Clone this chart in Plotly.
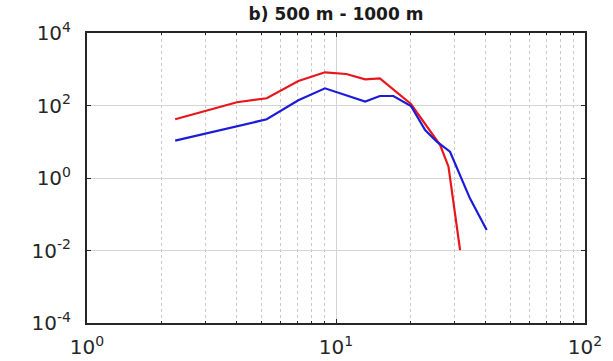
import plotly.graph_objects as go

title = "b) 500 m - 1000 m"

red_x = [2.26, 4.0, 5.27, 7.06, 9.03, 11.0, 13.1, 15.0, 20.0, 26.2, 28.3, 31.5]
red_y = [41.6, 123, 158, 474, 824, 740, 527, 562, 110, 8.1, 2.05, 0.0103]

blue_x = [2.26, 4.0, 5.27, 7.06, 9.03, 13.1, 15.0, 17.0, 20.0, 22.8, 25.4, 28.7, 34.5, 40.3]
blue_y = [10.7, 27.6, 41.7, 140, 298, 128, 183, 183, 97, 21.1, 10.0, 5.3, 0.275, 0.037]

x_ticks = [1, 10, 100]
x_ticktext = ["10<sup>0</sup>", "10<sup>1</sup>", "10<sup>2</sup>"]
y_ticks = [1e-4, 1e-2, 1, 1e2, 1e4]
y_ticktext = ["10<sup>-4</sup>", "10<sup>-2</sup>", "10<sup>0</sup>", "10<sup>2</sup>", "10<sup>4</sup>"]
x_minor = [2, 3, 4, 5, 6, 7, 8, 9, 20, 30, 40, 50, 60, 70, 80, 90]

fig = go.Figure()
fig.add_trace(go.Scatter(x=red_x, y=red_y, mode="lines",
                         line=dict(color="#e8161b", width=2.2), showlegend=False))
fig.add_trace(go.Scatter(x=blue_x, y=blue_y, mode="lines",
                         line=dict(color="#1c1cd8", width=2.2), showlegend=False))

axis_font = dict(family="DejaVu Sans, Arial, sans-serif", size=20, color="#262626")

fig.update_layout(
    width=613, height=361,
    margin=dict(l=87, r=28, t=33, b=38, autoexpand=False),
    paper_bgcolor="white", plot_bgcolor="white",
    title=dict(text="<b>" + title + "</b>", xref="paper", x=0.5, xanchor="center",
               yref="container", y=0.961, yanchor="middle", automargin=False,
               font=dict(family="DejaVu Sans, Arial, sans-serif", size=17, color="#1a1a1a")),
    xaxis=dict(type="log", range=[0, 2], tickvals=x_ticks, ticktext=x_ticktext,
               tickfont=axis_font, ticks="inside", ticklen=4, tickcolor="#262626",
               ticklabelstandoff=5, automargin=False,
               showline=True, linecolor="#262626", linewidth=2, mirror="ticks",
               showgrid=True, gridcolor="#d4d4d4", gridwidth=1.2, zeroline=False,
               minor=dict(tickvals=x_minor, showgrid=True, gridcolor="#c8c8c8",
                          griddash="dot", gridwidth=1, ticks="inside", ticklen=2,
                          tickcolor="#262626")),
    yaxis=dict(type="log", range=[-4, 4], tickvals=y_ticks, ticktext=y_ticktext,
               tickfont=axis_font, ticks="inside", ticklen=4, tickcolor="#262626",
               ticklabelstandoff=10, automargin=False,
               showline=True, linecolor="#262626", linewidth=2, mirror="ticks",
               showgrid=True, gridcolor="#d4d4d4", gridwidth=1.2, zeroline=False),
)

fig.write_html("out.html")
